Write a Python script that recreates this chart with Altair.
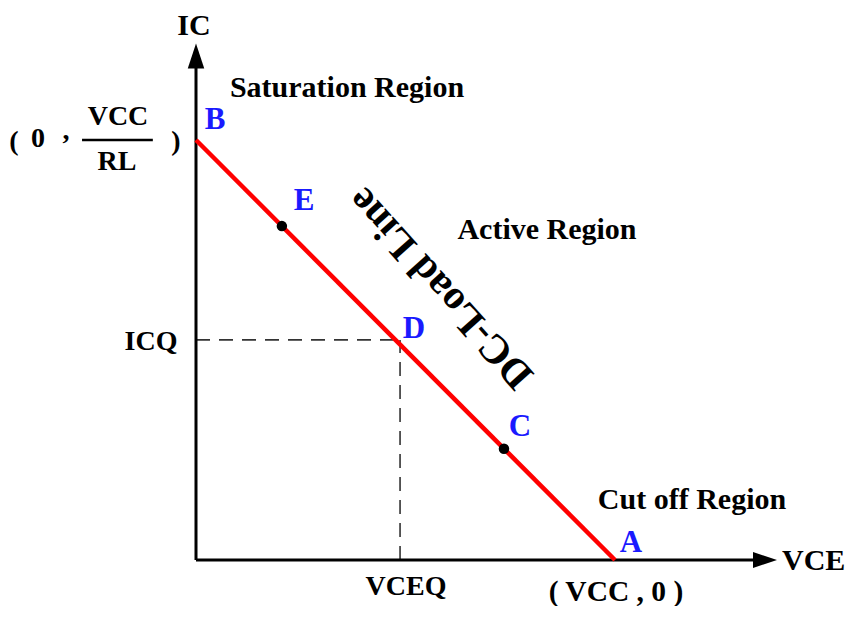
import altair as alt
import pandas as pd

# ---------------- data (normalised units: VCC = 10, VCC/RL = 10) ----------------
load_vce = [0.0, 10.0]          # B -> A
load_ic = [10.0, 0.0]

pt_names = ["E", "C"]           # marked operating points
pt_vce = [2.05, 7.35]
pt_ic = [7.95, 2.65]

q_vce = 4.87                    # quiescent point D
q_ic = 5.24

point_labels = ["B", "E", "D", "C", "A"]
region_labels = ["Saturation Region", "Active Region", "Cut off Region"]
axis_titles = ["IC", "VCE"]
q_labels = ["ICQ", "VCEQ"]
a_coord = "( VCC , 0 )"
b_coord = ["(", "0", ",", "VCC", "RL", ")"]
line_label = "DC-Load Line"

# ---------------- layout ----------------
W, H = 840, 598
KX, KY = 41.9, 42.0
X0 = -(196 - 8) / KX
X1 = X0 + W / KX
Y1 = (560 - 8) / KY
Y0 = Y1 - H / KY

FONT = "Liberation Serif"
BLUE = "#1a1aff"

xs = alt.Scale(domain=[X0, X1], nice=False, zero=False)
ys = alt.Scale(domain=[Y0, Y1], nice=False, zero=False)
X = alt.X("x:Q", scale=xs, axis=None)
Y = alt.Y("y:Q", scale=ys, axis=None)


def seg_layer(rows, color, width, dash=None):
    df = pd.DataFrame(rows, columns=["x", "y", "x2", "y2"])
    kw = dict(color=color, strokeWidth=width)
    if dash:
        kw["strokeDash"] = dash
    return alt.Chart(df).mark_rule(**kw).encode(x=X, y=Y, x2="x2:Q", y2="y2:Q")


def text_layer(rows, size, color="black", align="center", baseline="alphabetic", angle=0):
    df = pd.DataFrame(rows, columns=["t", "x", "y"])
    return alt.Chart(df).mark_text(
        font=FONT, fontSize=size, fontWeight="bold", color=color,
        align=align, baseline=baseline, angle=angle
    ).encode(x=X, y=Y, text="t:N")


# dashed guides to the Q point
dashes = seg_layer([(0, q_ic, q_vce, q_ic), (q_vce, 0, q_vce, q_ic)], "#333333", 1.6, [14, 9])

# axes
axes = seg_layer([(0, 0, 0, 11.8), (0, 0, 13.5, 0)], "black", 3)

up_arrow = alt.Chart(pd.DataFrame({"x": [0.0], "y": [12.0]})).mark_point(
    shape="M0,-1 L0.66,1 L-0.66,1 Z", size=625, filled=True, color="black", opacity=1
).encode(x=X, y=Y)
right_arrow = alt.Chart(pd.DataFrame({"x": [13.58], "y": [0.0]})).mark_point(
    shape="M1,0 L-1,0.66 L-1,-0.66 Z", size=576, filled=True, color="black", opacity=1
).encode(x=X, y=Y)

# load line
load = alt.Chart(pd.DataFrame({"x": load_vce, "y": load_ic})).mark_line(
    color="#ff0000", strokeWidth=4.5
).encode(x=X, y=Y)

dots = alt.Chart(pd.DataFrame({"x": pt_vce, "y": pt_ic, "n": pt_names})).mark_circle(
    size=110, color="black", opacity=1
).encode(x=X, y=Y)

# fraction bar for VCC/RL
frac = seg_layer([(-2.72, 10.0, -1.03, 10.0)], "black", 2.5)


def xd(px):
    return (px - 196) / KX


def yd(py):
    return (560 - py) / KY


texts = [
    text_layer([(axis_titles[0], xd(194), yd(35))], 30),
    text_layer([(axis_titles[1], xd(782), yd(570))], 30, align="left"),
    text_layer([
        (region_labels[0], xd(347), yd(97)),
        (region_labels[1], xd(547), yd(239)),
        (region_labels[2], xd(692), yd(509)),
    ], 30),
    text_layer([
        (q_labels[0], xd(151), yd(350)),
        (q_labels[1], xd(406), yd(595)),
    ], 28),
    text_layer([(a_coord, xd(616), yd(601))], 29.5),
    text_layer([
        (b_coord[0], xd(14), yd(150)),
        (b_coord[1], xd(38), yd(147)),
        (b_coord[2], xd(66), yd(139)),
        (b_coord[3], xd(118), yd(125)),
        (b_coord[4], xd(117), yd(170)),
        (b_coord[5], xd(176), yd(150)),
    ], 28),
    text_layer([
        (point_labels[0], xd(215), yd(129)),
        (point_labels[1], xd(304), yd(210)),
        (point_labels[2], xd(414), yd(338)),
        (point_labels[3], xd(520), yd(436)),
        (point_labels[4], xd(631), yd(552)),
    ], 31, color=BLUE),
    text_layer([(line_label, xd(441), yd(288))], 41, baseline="middle", angle=228),
]

chart = alt.layer(dashes, axes, up_arrow, right_arrow, load, dots, frac, *texts).properties(
    width=W, height=H, padding=0,
    autosize=alt.AutoSizeParams(type="none"),
    background="white",
).configure_view(stroke=None)

chart.save("out.html", embed_options={"renderer": "svg", "actions": False})
